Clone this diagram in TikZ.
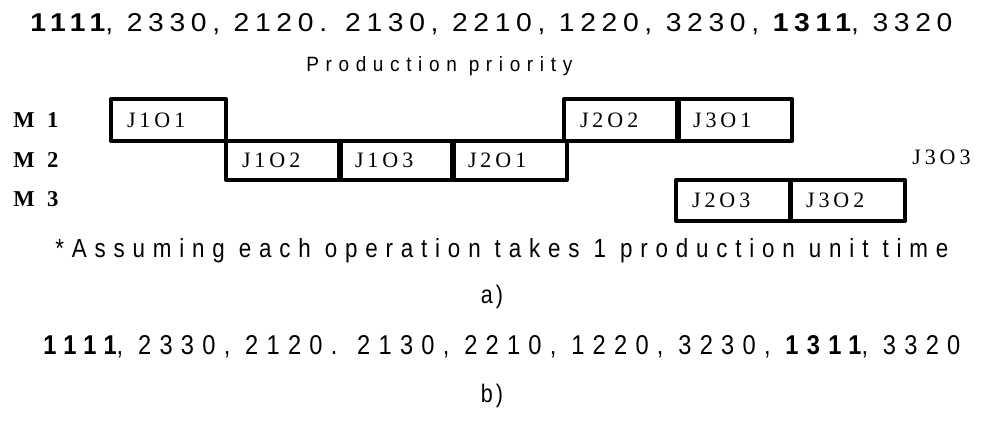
\documentclass[tikz,border=0pt]{standalone}
\usepackage{fontspec}
\setmainfont{Liberation Serif}
\setsansfont{Liberation Sans}
\usetikzlibrary{positioning}
\newcommand{\lspace}{0}
\newcommand{\spreadtext}[4]{\resizebox{#1}{#2}{\renewcommand{\lspace}{#3}\sffamily\addfontfeature{LetterSpace=#3}#4}}
\newcommand{\boldnum}[1]{{\bfseries\addfontfeature{LetterSpace=\lspace}#1}}
\newcommand{\seqline}{\boldnum{1111}, 2330, 2120. 2130, 2210, 1220, 3230, \boldnum{1311}, 3320}
\tikzset{
  txt/.style={anchor=base west, inner sep=0pt},
  mach/.style={txt, font=\fontsize{17}{18}\selectfont\bfseries\addfontfeature{LetterSpace=30}},
  joblabel/.style={font=\fontsize{16.5}{17}\selectfont\addfontfeature{LetterSpace=18}},
  jobbox/.style={joblabel, draw, line width=3pt, line join=round, anchor=north west,
    inner sep=0pt, inner xsep=12pt, text width=62.25pt, align=left},
  row1/.style={jobbox, minimum height=31.5pt},
  row2/.style={jobbox, minimum height=29.25pt},
  row3/.style={jobbox, minimum height=30.75pt},
  subcap/.style={anchor=base, inner sep=0pt, font=\fontsize{19}{20}\selectfont\sffamily\addfontfeature{LetterSpace=15}}
}
\begin{document}
\begin{tikzpicture}[x=0.75pt,y=-0.75pt]
  \useasboundingbox (0,0) rectangle (983,438);
  \node[txt] (topseq) at (30,32) {\spreadtext{691.5pt}{13.5pt}{20}{\seqline}};
  \node[txt] (prio) at (306,72) {\spreadtext{199.5pt}{11.25pt}{35}{Production priority}};
  \node[mach] (m1) at (13,128) {M 1};
  \node[mach] (m2) at (13,168) {M 2};
  \node[mach] (m3) at (13,207) {M 3};
  \node[row1] (j1o1) at (109,97) {J1O1};
  \node[row1] (j2o2) at (562,97) {J2O2};
  \node[row1] (j3o1) at (675,97) {J3O1};
  \node[row2] (j1o2) at (224,139) {J1O2};
  \node[row2] (j1o3) at (337,139) {J1O3};
  \node[row2] (j2o1) at (450,139) {J2O1};
  \node[row3] (j2o3) at (674,178) {J2O3};
  \node[row3] (j3o2) at (788,178) {J3O2};
  \node[txt, joblabel] (j3o3) at (912,165) {J3O3};
  \node[txt] (note) at (55,258) {\spreadtext{669.75pt}{14.25pt}{35}{*Assuming each operation takes 1 production unit time}};
  \node[subcap] (capa) at (492,304) {\scalebox{0.85}[1]{a)}};
  \node[txt] (botseq) at (43,355) {\spreadtext{687.75pt}{14.25pt}{35}{\seqline}};
  \node[subcap] (capb) at (492,403) {\scalebox{0.85}[1]{b)}};
\end{tikzpicture}
\end{document}
